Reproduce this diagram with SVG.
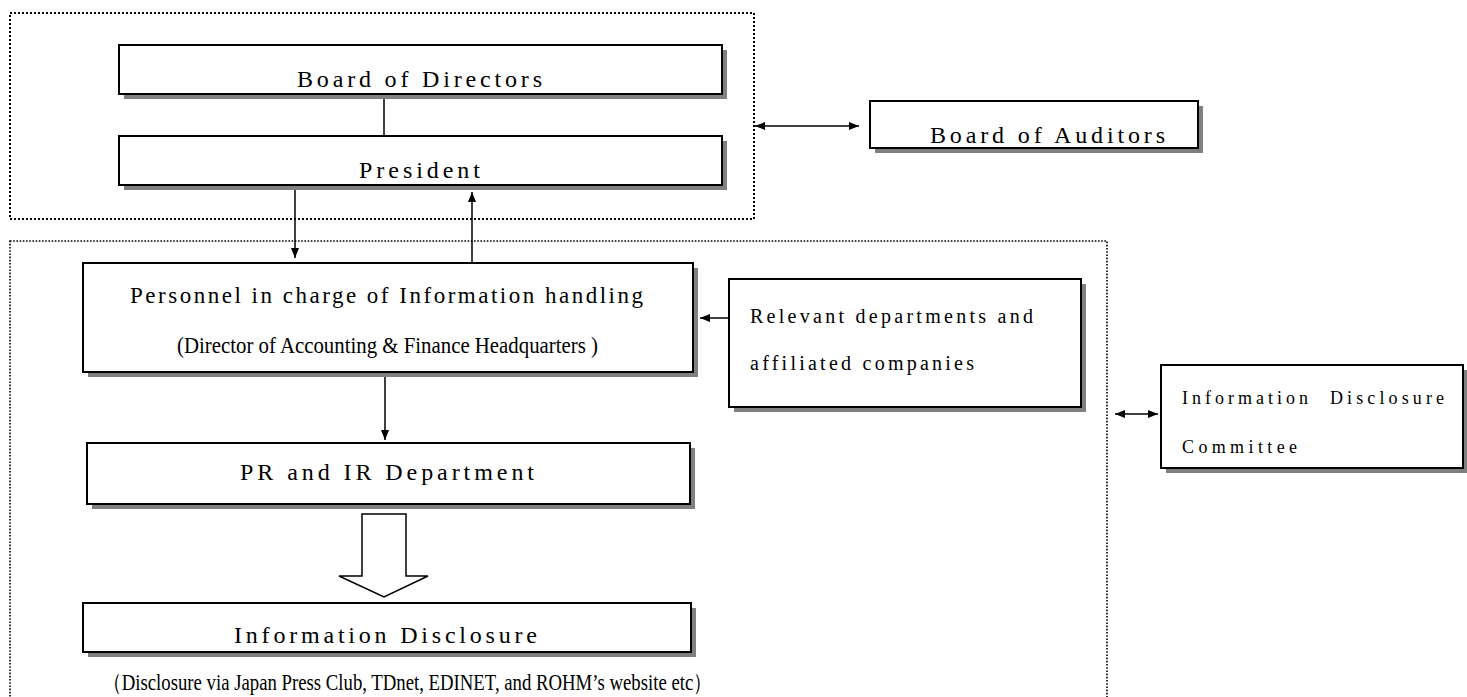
<svg xmlns="http://www.w3.org/2000/svg" width="1467" height="697" viewBox="0 0 1467 697">
<defs>
<style>
.frame{fill:none;stroke:#000}
.top{stroke-width:2;stroke-dasharray:2 2}
.low{stroke-width:1.6;stroke-dasharray:1.6 1.6}
.sh{fill:#808080}
.bx{fill:#fff;stroke:#000;stroke-width:2}
.ln{fill:none;stroke:#000;stroke-width:1.5}
text{font-family:"Liberation Serif","Times New Roman",serif;fill:#000}
.t24{font-size:24px}
.t23{font-size:23px}
.t20{font-size:20px}
.t18{font-size:18px}
</style>
<marker id="ah" viewBox="0 0 10 8" refX="10" refY="4" markerWidth="10" markerHeight="8" markerUnits="userSpaceOnUse" orient="auto-start-reverse">
<path d="M0,0 L10,4 L0,8 z" fill="#000"/>
</marker>
</defs>
<rect width="1467" height="697" fill="#fff"/>
<g id="frames">
<rect class="frame top" x="10" y="13" width="744" height="206"/>
<rect class="frame low" x="10" y="241" width="1097" height="470"/>
</g>
<g id="connectors">
<line class="ln" x1="384" y1="94" x2="384" y2="136"/>
<line class="ln" x1="295" y1="189" x2="295" y2="258" marker-end="url(#ah)"/>
<line class="ln" x1="472" y1="263" x2="472" y2="192" marker-end="url(#ah)"/>
<line class="ln" x1="385" y1="377" x2="385" y2="440" marker-end="url(#ah)"/>
<line class="ln" x1="729" y1="318" x2="700" y2="318" marker-end="url(#ah)"/>
<line class="ln" x1="755" y1="126" x2="859" y2="126" marker-start="url(#ah)" marker-end="url(#ah)"/>
<line class="ln" x1="1115" y1="414" x2="1158" y2="414" marker-start="url(#ah)" marker-end="url(#ah)"/>
<polygon points="362,514 406,514 406,576 428,576 384,597 339,576 362,576" fill="#fff" stroke="#000" stroke-width="1.5"/>
</g>
<g id="board-of-directors">
<rect class="sh" x="124" y="50" width="603" height="49"/>
<rect class="bx" x="119" y="45" width="603" height="49"/>
<text class="t24" x="297" y="87" textLength="245" lengthAdjust="spacing">Board of Directors</text>
</g>
<g id="president">
<rect class="sh" x="124" y="141" width="603" height="49"/>
<rect class="bx" x="119" y="136" width="603" height="49"/>
<text class="t24" x="359" y="178" textLength="121" lengthAdjust="spacing">President</text>
</g>
<g id="board-of-auditors">
<rect class="sh" x="875" y="106" width="328" height="47"/>
<rect class="bx" x="870" y="101" width="328" height="47"/>
<text class="t24" x="930" y="143" textLength="235" lengthAdjust="spacing">Board of Auditors</text>
</g>
<g id="personnel">
<rect class="sh" x="88" y="268" width="610" height="109"/>
<rect class="bx" x="83" y="263" width="610" height="109"/>
<text class="t23" x="130" y="303" textLength="513" lengthAdjust="spacing">Personnel in charge of Information handling</text>
<text class="t23" x="177" y="353" textLength="421" lengthAdjust="spacingAndGlyphs">(Director of Accounting &amp; Finance Headquarters )</text>
</g>
<g id="relevant-departments">
<rect class="sh" x="734" y="284" width="352" height="128"/>
<rect class="bx" x="729" y="279" width="352" height="128"/>
<text class="t20" x="750" y="323" textLength="283" lengthAdjust="spacing">Relevant departments and</text>
<text class="t20" x="750" y="370" textLength="224" lengthAdjust="spacing">affiliated companies</text>
</g>
<g id="disclosure-committee">
<rect class="sh" x="1166" y="370" width="302" height="103"/>
<rect class="bx" x="1161" y="365" width="302" height="103"/>
<text class="t18" y="404"><tspan x="1182" textLength="126" lengthAdjust="spacing">Information</tspan><tspan x="1330" textLength="114" lengthAdjust="spacing">Disclosure</tspan></text>
<text class="t18" x="1182" y="453" textLength="115" lengthAdjust="spacing">Committee</text>
</g>
<g id="pr-ir">
<rect class="sh" x="92" y="448" width="603" height="61"/>
<rect class="bx" x="87" y="443" width="603" height="61"/>
<text class="t24" x="240" y="480" textLength="294" lengthAdjust="spacing">PR and IR Department</text>
</g>
<g id="information-disclosure">
<rect class="sh" x="88" y="608" width="608" height="49"/>
<rect class="bx" x="83" y="603" width="608" height="49"/>
<text class="t24" x="234" y="643" textLength="303" lengthAdjust="spacing">Information Disclosure</text>
<text class="t23" x="103" y="690" textLength="609" lengthAdjust="spacingAndGlyphs">（Disclosure via Japan Press Club, TDnet, EDINET, and ROHM’s website etc）</text>
</g>
</svg>
